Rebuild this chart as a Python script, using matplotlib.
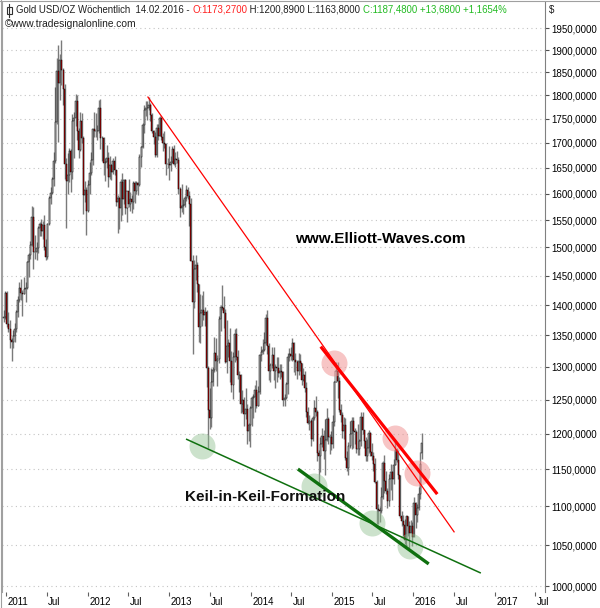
import matplotlib
matplotlib.use('Agg')
import matplotlib.pyplot as plt
import matplotlib.dates as mdates
from matplotlib.patches import Rectangle
from matplotlib.lines import Line2D
import numpy as np
import pandas as pd

# weekly gold candles, week of 2010-12-20 up to week of 2016-02-08
first_week = '2010-12-20'

open_ = [1379, 1380,
         1421, 1369, 1361, 1342, 1340, 1349, 1361, 1388, 1409, 1429, 1421, 1418, 1428,
         1429, 1474, 1486, 1504, 1556, 1492, 1492, 1499, 1536, 1542, 1530, 1540, 1500,
         1483, 1543, 1591, 1602, 1628, 1663, 1744, 1852, 1827, 1877, 1856, 1813, 1657,
         1624, 1636, 1683, 1642, 1746, 1752, 1788, 1725, 1686, 1746, 1711, 1597, 1606,
         1566, 1617, 1640, 1665, 1728, 1725, 1724, 1725, 1772, 1710, 1711, 1659, 1662,
         1669, 1632, 1656, 1642, 1663, 1645, 1584, 1592, 1573, 1623, 1590, 1627, 1572,
         1604, 1580, 1590, 1583, 1620, 1605, 1620, 1616, 1672, 1691, 1736, 1768, 1773,
         1772, 1780, 1757, 1724, 1712, 1676, 1731, 1715, 1752, 1712, 1700, 1697, 1658, 1657,
         1656, 1662, 1687, 1657, 1667, 1666, 1609, 1572, 1576, 1578, 1592, 1606, 1596,
         1581, 1476, 1405, 1461, 1469, 1435, 1364, 1386, 1392, 1383, 1388, 1298, 1234,
         1223, 1277, 1295, 1322, 1310, 1312, 1377, 1396, 1395, 1387, 1308, 1333, 1338,
         1309, 1272, 1315, 1352, 1315, 1287, 1288, 1244, 1250, 1229, 1236, 1204, 1213,
         1238, 1252, 1254, 1264, 1240, 1262, 1318, 1323, 1326, 1338, 1379, 1333, 1294,
         1303, 1318, 1293, 1300, 1299, 1290, 1293, 1292, 1250, 1252, 1274, 1316, 1321,
         1317, 1337, 1311, 1307, 1294, 1310, 1306, 1280, 1287, 1268, 1231, 1216, 1218,
         1192, 1223, 1238, 1231, 1172, 1169, 1186, 1197, 1175, 1191, 1222, 1196, 1195,
         1186, 1217, 1277, 1293, 1279, 1234, 1227, 1204, 1213, 1165, 1152, 1182, 1199,
         1219, 1204, 1203, 1178, 1179, 1189, 1225, 1205, 1190, 1168, 1180, 1201, 1174,
         1168, 1157, 1133, 1097, 1095, 1094, 1113, 1159, 1134, 1121, 1107, 1137, 1146,
         1137, 1156, 1177, 1163, 1142, 1088, 1081, 1076, 1057, 1087, 1075, 1066, 1075,
         1061, 1104, 1089, 1098, 1117, 1173]

high = [1392, 1424,
        1424, 1389, 1375, 1346, 1358, 1370, 1391, 1415, 1440, 1444, 1426, 1448, 1440,
        1476, 1490, 1511, 1577, 1575, 1522, 1510, 1539, 1547, 1552, 1549, 1560, 1515,
        1544, 1595, 1612, 1633, 1681, 1817, 1881, 1912, 1890, 1923, 1860, 1825, 1670,
        1680, 1690, 1688, 1760, 1764, 1803, 1800, 1730, 1764, 1763, 1714, 1625, 1612,
        1626, 1662, 1681, 1730, 1764, 1763, 1736, 1790, 1792, 1714, 1713, 1670, 1696,
        1682, 1673, 1657, 1669, 1673, 1646, 1597, 1594, 1628, 1640, 1628, 1628, 1605,
        1628, 1603, 1597, 1624, 1625, 1625, 1623, 1678, 1693, 1741, 1778, 1788, 1787,
        1796, 1784, 1763, 1726, 1722, 1738, 1738, 1755, 1754, 1720, 1725, 1700, 1669, 1693,
        1674, 1694, 1695, 1682, 1684, 1672, 1613, 1619, 1589, 1596, 1616, 1612, 1605,
        1591, 1487, 1477, 1487, 1474, 1436, 1418, 1417, 1424, 1396, 1391, 1301, 1267,
        1298, 1300, 1348, 1346, 1318, 1382, 1400, 1434, 1416, 1393, 1375, 1345, 1362,
        1325, 1324, 1361, 1362, 1326, 1294, 1289, 1264, 1254, 1267, 1244, 1216, 1240,
        1255, 1259, 1272, 1280, 1270, 1320, 1333, 1345, 1355, 1385, 1392, 1338, 1306,
        1332, 1331, 1305, 1316, 1315, 1305, 1304, 1294, 1258, 1277, 1322, 1330, 1332,
        1346, 1339, 1322, 1311, 1322, 1320, 1306, 1298, 1294, 1277, 1239, 1227, 1222,
        1226, 1250, 1255, 1235, 1177, 1196, 1208, 1205, 1221, 1238, 1225, 1200, 1204,
        1227, 1278, 1307, 1308, 1285, 1244, 1232, 1224, 1223, 1175, 1188, 1219, 1225,
        1224, 1209, 1205, 1214, 1193, 1232, 1232, 1206, 1195, 1193, 1205, 1203, 1187,
        1174, 1166, 1135, 1103, 1099, 1126, 1162, 1170, 1147, 1125, 1143, 1157, 1147,
        1164, 1191, 1180, 1177, 1142, 1094, 1089, 1083, 1088, 1088, 1081, 1082, 1080,
        1112, 1106, 1103, 1126, 1174, 1201]

low = [1372, 1376,
       1363, 1355, 1330, 1309, 1330, 1340, 1355, 1380, 1405, 1408, 1381, 1418, 1405,
       1428, 1447, 1480, 1502, 1462, 1480, 1478, 1490, 1520, 1520, 1516, 1496, 1478,
       1480, 1540, 1580, 1600, 1614, 1660, 1740, 1702, 1790, 1822, 1780, 1628, 1535,
       1600, 1622, 1603, 1628, 1670, 1735, 1705, 1670, 1684, 1700, 1562, 1584, 1523,
       1565, 1600, 1636, 1655, 1713, 1712, 1705, 1721, 1688, 1664, 1636, 1625, 1650,
       1612, 1628, 1627, 1638, 1635, 1577, 1527, 1533, 1548, 1560, 1580, 1562, 1547,
       1575, 1566, 1564, 1570, 1582, 1599, 1598, 1615, 1652, 1690, 1720, 1755, 1747,
       1768, 1746, 1720, 1697, 1672, 1672, 1706, 1714, 1705, 1684, 1690, 1636, 1650, 1626,
       1643, 1660, 1655, 1651, 1660, 1600, 1555, 1565, 1562, 1575, 1585, 1590, 1539,
       1476, 1321, 1395, 1443, 1422, 1339, 1338, 1366, 1375, 1366, 1269, 1180, 1207,
       1210, 1270, 1292, 1293, 1270, 1306, 1357, 1391, 1362, 1306, 1291, 1316, 1277,
       1261, 1251, 1307, 1311, 1281, 1262, 1230, 1231, 1211, 1221, 1185, 1190, 1181,
       1211, 1223, 1232, 1238, 1240, 1259, 1310, 1320, 1325, 1334, 1320, 1280, 1277,
       1298, 1280, 1268, 1277, 1284, 1282, 1285, 1240, 1240, 1251, 1259, 1310, 1311,
       1310, 1292, 1288, 1282, 1288, 1293, 1272, 1279, 1262, 1225, 1214, 1206, 1183,
       1190, 1220, 1226, 1161, 1131, 1146, 1181, 1164, 1142, 1190, 1186, 1171, 1177,
       1180, 1211, 1276, 1252, 1232, 1217, 1194, 1193, 1163, 1148, 1142, 1180, 1178,
       1180, 1185, 1172, 1170, 1170, 1182, 1200, 1180, 1162, 1162, 1172, 1169, 1163,
       1147, 1131, 1077, 1077, 1080, 1092, 1110, 1118, 1116, 1098, 1101, 1122, 1108,
       1130, 1156, 1160, 1137, 1085, 1075, 1062, 1052, 1046, 1062, 1046, 1065, 1049,
       1061, 1072, 1080, 1095, 1110, 1164]

close = [1380, 1421,
         1369, 1361, 1342, 1340, 1349, 1361, 1388, 1409, 1429, 1421, 1418, 1428, 1429,
         1474, 1486, 1504, 1556, 1492, 1492, 1499, 1536, 1542, 1530, 1540, 1500, 1483,
         1543, 1591, 1602, 1628, 1663, 1744, 1852, 1827, 1877, 1856, 1813, 1657, 1624,
         1636, 1683, 1642, 1746, 1752, 1788, 1725, 1686, 1746, 1711, 1597, 1606, 1566,
         1617, 1640, 1665, 1728, 1725, 1724, 1725, 1772, 1710, 1711, 1659, 1662, 1669,
         1632, 1656, 1642, 1663, 1645, 1584, 1592, 1573, 1623, 1590, 1627, 1572, 1604,
         1580, 1590, 1583, 1620, 1605, 1620, 1616, 1672, 1691, 1736, 1768, 1773, 1772,
         1780, 1757, 1724, 1712, 1676, 1731, 1715, 1752, 1712, 1700, 1697, 1658, 1657, 1656,
         1662, 1687, 1657, 1667, 1666, 1609, 1572, 1576, 1578, 1592, 1606, 1596, 1581,
         1476, 1405, 1461, 1469, 1435, 1364, 1386, 1392, 1383, 1388, 1298, 1234, 1223,
         1277, 1295, 1322, 1310, 1312, 1377, 1396, 1395, 1387, 1308, 1333, 1338, 1309,
         1272, 1315, 1352, 1315, 1287, 1288, 1244, 1250, 1229, 1236, 1204, 1213, 1238,
         1252, 1254, 1264, 1240, 1262, 1318, 1323, 1326, 1338, 1379, 1333, 1294, 1303,
         1318, 1293, 1300, 1299, 1290, 1293, 1292, 1250, 1252, 1274, 1316, 1321, 1317,
         1337, 1311, 1307, 1294, 1310, 1306, 1280, 1287, 1268, 1231, 1216, 1218, 1192,
         1223, 1238, 1231, 1172, 1169, 1186, 1197, 1175, 1191, 1222, 1196, 1195, 1186,
         1217, 1277, 1293, 1279, 1234, 1227, 1204, 1213, 1165, 1152, 1182, 1199, 1219,
         1204, 1203, 1178, 1179, 1189, 1225, 1205, 1190, 1168, 1180, 1201, 1174, 1168,
         1157, 1133, 1097, 1095, 1094, 1113, 1159, 1134, 1121, 1107, 1137, 1146, 1137,
         1156, 1177, 1163, 1142, 1088, 1081, 1076, 1057, 1087, 1075, 1066, 1075, 1061,
         1104, 1089, 1098, 1117, 1157, 1187]

# hand drawn trend lines (date, price)
red_thin = (['2012-09-27', '2016-07-02'], [1796, 1067])
red_thick = (['2014-11-16', '2016-04-13'], [1330, 1118])
green_thin = (['2013-03-20', '2016-10-27'], [1192, 1016])
green_thick = (['2014-08-07', '2016-03-04'], [1149, 1028])
pink_marks = (['2015-01-10', '2015-10-10', '2016-01-17'], [1306, 1194, 1145])
green_marks = (['2013-05-27', '2014-10-12', '2015-06-29', '2015-12-16'], [1183, 1127, 1078, 1049])

y_ticks = list(range(1000, 2000, 50))
x_ticks = ['2011-01-01', '2011-07-01', '2012-01-01', '2012-07-01', '2013-01-01', '2013-07-01',
           '2014-01-01', '2014-07-01', '2015-01-01', '2015-07-01', '2016-01-01', '2016-07-01',
           '2017-01-01', '2017-07-01']
x_labels = ['2011', 'Jul', '2012', 'Jul', '2013', 'Jul', '2014', 'Jul', '2015', 'Jul',
            '2016', 'Jul', '2017', 'Jul']

header = [('Gold USD/OZ Wöchentlich  14.02.2016 - ', '#202020'),
          ('O:1173,2700', '#ff2020'),
          (' H:1200,8900 L:1163,8000 ', '#202020'),
          ('C:1187,4800 +13,6800 +1,1654%', '#22bb22')]

plt.rcParams['font.family'] = ['Liberation Sans', 'DejaVu Sans']

W, H = 600, 608
fig = plt.figure(figsize=(W / 100, H / 100), dpi=100)


def fx(px):
    return px / W


def fy(py):
    return 1 - py / H


ax = fig.add_axes([fx(2), fy(592), fx(545) - fx(2), fy(2) - fy(592)])
ax.set_yscale('log')

o = np.array(open_, float)
h = np.array(high, float)
l = np.array(low, float)
c = np.array(close, float)
dates = pd.date_range(first_week, periods=len(c), freq='7D')
x = mdates.date2num(dates)
up = c >= o

ax.vlines(x, l, h, color='#7a7a7a', lw=1.0, zorder=2)
ax.bar(x[up], np.maximum(c[up] - o[up], 0.5), bottom=o[up], width=4.5,
       color='#f0f0f0', edgecolor='black', lw=0.35, zorder=3)
ax.bar(x[~up], o[~up] - c[~up], bottom=c[~up], width=4.5,
       color='#e00000', edgecolor='black', lw=0.35, zorder=3)


def to_x(ds):
    return mdates.date2num(pd.to_datetime(ds))


ax.scatter(to_x(pink_marks[0]), pink_marks[1], s=350, color='#f08c8c', alpha=0.5,
           lw=0, zorder=4)
ax.scatter(to_x(green_marks[0]), green_marks[1], s=350, color='#8fbf8f', alpha=0.45,
           lw=0, zorder=4)
ax.plot(to_x(red_thin[0]), red_thin[1], color='#ff0000', lw=0.9, zorder=5)
ax.plot(to_x(red_thick[0]), red_thick[1], color='#ff0000', lw=2.3, zorder=5)
ax.plot(to_x(green_thin[0]), green_thin[1], color='#0f700f', lw=1.1, zorder=5)
ax.plot(to_x(green_thick[0]), green_thick[1], color='#0f700f', lw=2.4, zorder=5)

ax.text(to_x('2015-08-05'), 1516, 'www.Elliott-Waves.com', fontsize=11, fontweight='bold',
        ha='center', va='center', zorder=6)
ax.text(to_x('2014-03-06'), 1112, 'Keil-in-Keil-Formation', fontsize=11, fontweight='bold',
        color='#101010', ha='center', va='center', zorder=6)

ax.set_xlim(to_x('2010-12-12'), to_x('2017-08-14'))
ax.set_ylim(1000 * np.exp(-6 / 835), 1000 * np.exp(584 / 835))

ax.yaxis.tick_right()
ax.yaxis.set_minor_locator(matplotlib.ticker.NullLocator())
ax.yaxis.set_minor_formatter(matplotlib.ticker.NullFormatter())
ax.set_yticks(y_ticks)
ax.set_yticklabels(['%d,0000' % v for v in y_ticks])
ax.tick_params(axis='y', length=3, width=0.8, pad=1.5, labelsize=7, color='#505050')
ax.grid(axis='y', which='major', color='#c4c4c4', linestyle=(0, (1, 3)), lw=0.8)

ax.set_xticks(to_x(x_ticks))
ax.set_xticklabels(x_labels, ha='left')
ax.tick_params(axis='x', length=3, width=0.8, pad=0.5, labelsize=7, color='#606060')
offset = matplotlib.transforms.ScaledTranslation(1.5 / 100, 0, fig.dpi_scale_trans)
for lab in ax.get_xticklabels():
    lab.set_transform(lab.get_transform() + offset)

for side in ['top', 'bottom']:
    ax.spines[side].set_visible(False)
ax.spines['left'].set_color('#a0a0a0')
ax.spines['right'].set_color('#808080')

# header line: icon, coloured OHLC text, copyright, currency sign
fig.add_artist(Line2D([fx(0), fx(600)], [fy(0.5), fy(0.5)], color='#a0a0a0', lw=0.8))
fig.add_artist(Line2D([fx(0.5), fx(0.5)], [fy(0), fy(608)], color='#a0a0a0', lw=0.8))
fig.add_artist(Line2D([fx(9), fx(9)], [fy(4), fy(17)], color='#303030', lw=0.8))
fig.add_artist(Rectangle((fx(6.5), fy(14)), fx(5), fy(7) - fy(14), facecolor='white',
                         edgecolor='#303030', lw=0.8))
prev = fig.text(fx(16), fy(15), header[0][0], fontsize=6.9, va='bottom',
                color=header[0][1])
for txt, col in header[1:]:
    prev = ax.annotate(txt, xy=(1, 0), xycoords=prev, va='bottom', ha='left',
                       fontsize=6.9, color=col)
fig.text(fx(5), fy(24), '©www.tradesignalonline.com', fontsize=7.4, va='center',
         color='#202020')
fig.text(fx(549), fy(10), '$', fontsize=7, va='center', color='#202020')

fig.savefig('out.png', dpi=100)
